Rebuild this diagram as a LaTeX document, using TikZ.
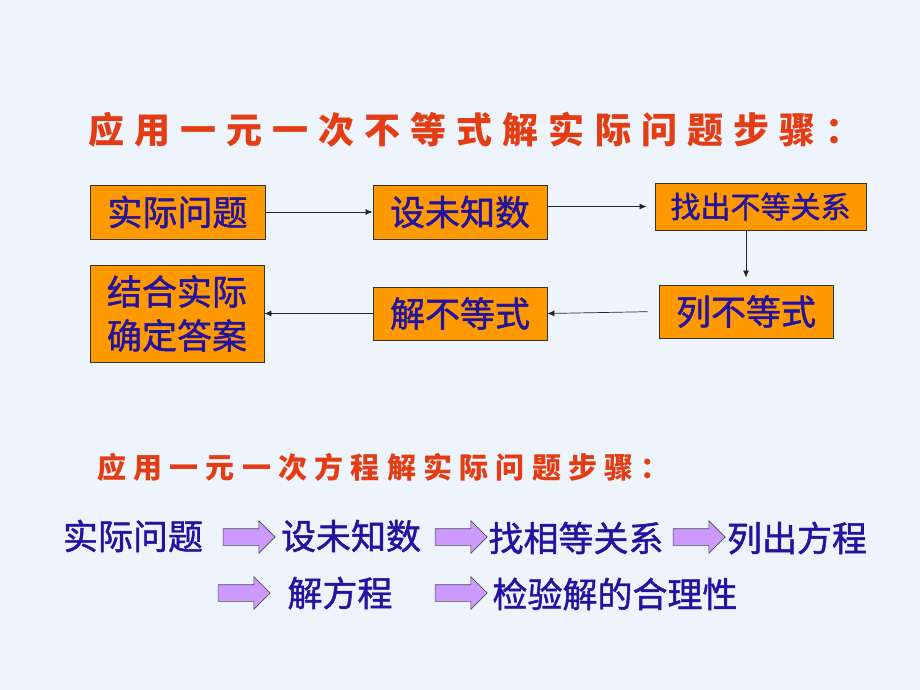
\documentclass[tikz,border=0pt]{standalone}
\usepackage{fontspec}
\newfontfamily\cjk[FakeBold=1.3]{Noto Sans CJK SC}
\newfontfamily\cjkhead{Noto Sans CJK SC}
\usetikzlibrary{arrows.meta,shapes.arrows}

\definecolor{bgblue}{RGB}{238,244,252}
\definecolor{boxorange}{RGB}{255,153,0}
\definecolor{txtblue}{RGB}{36,18,160}
\definecolor{titlered}{RGB}{228,60,20}
\definecolor{arrowlilac}{RGB}{204,153,255}

\tikzset{
    stepbox/.style={draw=black!80, fill=boxorange, line width=0.8pt, text=txtblue, font=\cjk\fontsize{35}{44}\selectfont, inner sep=0pt, align=center},
    steptext/.style={text=txtblue, font=\cjk\fontsize{35}{42}\selectfont, inner sep=0pt},
    flow/.style={-{Latex[length=7pt,width=6pt]}, line width=0.7pt, black!85},
    fatarrow/.style={single arrow, draw=black!70, fill=arrowlilac, line width=0.6pt, minimum height=52pt, inner xsep=0pt, inner ysep=8pt, single arrow head extend=8pt},
    heading/.style={text=titlered, inner sep=0pt, anchor=west}
}

\begin{document}
\begin{tikzpicture}[x=1pt,y=-1pt]
    \fill[bgblue] (0,0) rectangle (920,690);

    \node[heading, font=\cjkhead\bfseries\fontsize{36}{40}\selectfont\addfontfeature{LetterSpace=28}] (title1) at (88,130) {应用一元一次不等式解实际问题步骤：};

    \node[stepbox, minimum width=175pt, minimum height=54pt] (q1) at (177.5,212) {实际问题};
    \node[stepbox, minimum width=174pt, minimum height=54pt] (q2) at (460,212) {设未知数};
    \node[stepbox, minimum width=211pt, minimum height=47pt, font=\cjk\fontsize{30}{36}\selectfont] (q3) at (760.5,206.5) {找出不等关系};
    \node[stepbox, minimum width=174pt, minimum height=53pt] (q4) at (746,311.5) {列不等式};
    \node[stepbox, minimum width=174pt, minimum height=53pt] (q5) at (460,313.5) {解不等式};
    \node[stepbox, minimum width=174pt, minimum height=97pt] (q6) at (177,313.5) {结合实际\\确定答案};

    \draw[flow] (q1.east) -- (q2.west);
    \draw[flow, shorten >=8pt] (q2.east |- q3.west) -- (q3.west);
    \draw[flow, shorten >=7pt] (q3.south -| q4.north) -- (q4.north);
    \draw[flow, shorten <=11pt] (q4.west) -- (q5.east);
    \draw[flow] (q5.west) -- (q6.east |- q5.west);

    \node[heading, font=\cjkhead\bfseries\fontsize{29}{32}\selectfont\addfontfeature{LetterSpace=25}] (title2) at (97,467) {应用一元一次方程解实际问题步骤：};

    \node[steptext] (e1) at (133,536) {实际问题};
    \node[fatarrow] (a1) at (245,537) {};
    \node[steptext] (e2) at (351,536) {设未知数};
    \node[fatarrow] (a2) at (457,537) {};
    \node[steptext] (e3) at (576,538) {找相等关系};
    \node[fatarrow] (a3) at (695,537) {};
    \node[steptext] (e4) at (797,538) {列出方程};

    \node[fatarrow] (b1) at (240,593) {};
    \node[steptext] (f1) at (340,593) {解方程};
    \node[fatarrow] (b2) at (457,593) {};
    \node[steptext] (f2) at (615,594) {检验解的合理性};
\end{tikzpicture}
\end{document}
